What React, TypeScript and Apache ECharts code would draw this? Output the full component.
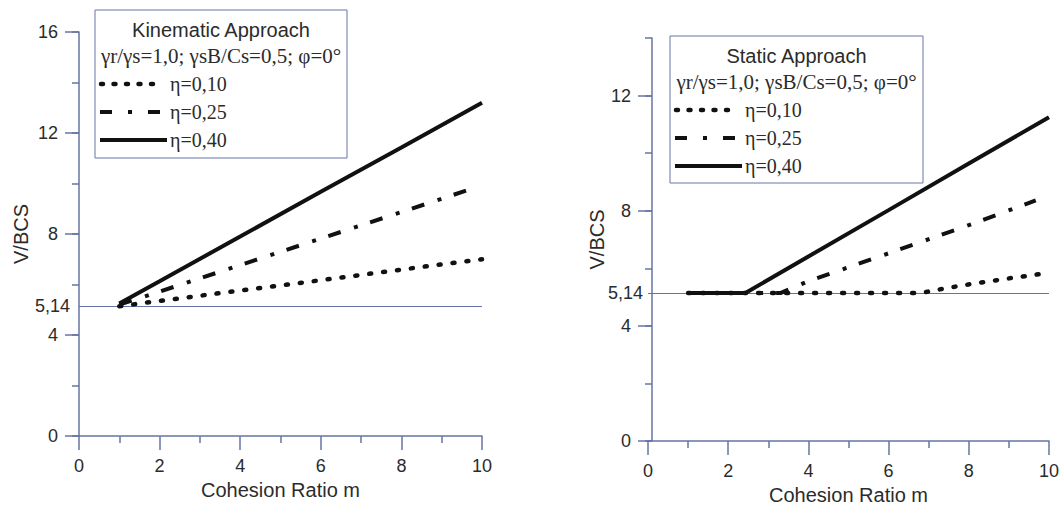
import React, { useEffect, useRef } from 'react';
import * as echarts from 'echarts';

// ---------- data ----------
const seriesNames = ['η=0,10', 'η=0,25', 'η=0,40'];
const refValue = 5.14;
const refLabel = '5,14';
const xTickValues = [0, 2, 4, 6, 8, 10];
const kinMajorY = [0, 4, 8, 12, 16];
const statMajorY = [0, 4, 8, 12];

const kinM10 = [1, 2, 4, 6, 8, 10];
const kinV10 = [5.14, 5.35, 5.76, 6.17, 6.59, 7.0];
const kinM25 = [1, 2, 4, 6, 8, 9.65];
const kinV25 = [5.2, 5.72, 6.77, 7.82, 8.87, 9.74];
const kinM40 = [1, 2, 4, 6, 8, 10];
const kinV40 = [5.25, 6.13, 7.9, 9.67, 11.43, 13.2];

const statM10 = [1, 6.8, 7.4, 8, 9, 10];
const statV10 = [5.14, 5.14, 5.3, 5.44, 5.65, 5.84];
const statM25 = [1, 3.3, 4, 6, 8, 9.67];
const statV25 = [5.14, 5.14, 5.55, 6.52, 7.5, 8.36];
const statM40 = [1, 2.43, 4, 6, 8, 10];
const statV40 = [5.14, 5.14, 6.41, 8.02, 9.64, 11.25];

const kinTitle = 'Kinematic Approach';
const statTitle = 'Static Approach';
const subTitle = 'γr/γs=1,0; γsB/Cs=0,5; φ=0°';
const xName = 'Cohesion Ratio m';
const yName = 'V/BCS';

// ---------- styles ----------
const AXIS = '#6674a4';
const TXT = '#2b2b2b';
const LINE = '#111111';
const SANS = '"Liberation Sans", Arial, sans-serif';
const SERIF = '"Liberation Serif", "Times New Roman", serif';
const plotDash: any[] = [[2, 12], [13, 14, 4, 13], 'solid'];
const plotCap = ['round', 'butt', 'butt'];
const legendDash: any[] = [[2, 10.5], [12, 16, 4, 16], null];

const zip = (a: number[], b: number[]) => a.map((v, i) => [v, b[i]]);

function buildLegend(x0: number, y0: number, w: number, h: number, title: string) {
  const els: any[] = [];
  els.push({
    type: 'rect',
    shape: { x: x0, y: y0, width: w, height: h },
    style: { fill: '#fff', stroke: AXIS, lineWidth: 1 },
    z: 10,
  });
  els.push({
    type: 'text',
    x: x0 + w / 2,
    y: y0 + 20,
    style: { text: title, font: `20px ${SANS}`, fill: TXT, align: 'center', verticalAlign: 'middle' },
    z: 11,
  });
  els.push({
    type: 'text',
    x: x0 + w / 2,
    y: y0 + 46,
    style: { text: subTitle, font: `21px ${SERIF}`, fill: TXT, align: 'center', verticalAlign: 'middle' },
    z: 11,
  });
  seriesNames.forEach((n, i) => {
    const yy = y0 + 74 + i * 28;
    els.push({
      type: 'line',
      shape: { x1: x0 + (i === 0 ? 6 : 5), y1: yy, x2: x0 + (i === 2 ? 72 : 65), y2: yy },
      style: {
        stroke: LINE,
        lineWidth: i === 0 ? 4.5 : 4,
        lineDash: legendDash[i],
        lineCap: i === 0 ? 'round' : 'butt',
      },
      z: 11,
    });
    els.push({
      type: 'text',
      x: x0 + 75,
      y: yy,
      style: { text: n, font: `20px ${SERIF}`, fill: TXT, align: 'left', verticalAlign: 'middle' },
      z: 11,
    });
  });
  return els;
}

export default function App() {
  const ref = useRef<HTMLDivElement>(null);
  useEffect(() => {
    const chart = echarts.init(ref.current!, null, { renderer: 'svg' });

    const grids = [
      { left: 79, top: 32, width: 403, height: 404 },
      { left: 648, top: 38, width: 403, height: 405 },
    ];
    const mk = (gi: number) => ({
      type: 'value',
      gridIndex: gi,
      min: 0,
      max: 10,
      interval: 2,
      name: xName,
      nameLocation: 'middle',
      nameGap: 44,
      nameTextStyle: { fontSize: 20, fontFamily: SANS, color: TXT },
      axisLine: { show: true, lineStyle: { color: AXIS, width: 1.5 } },
      axisTick: { show: true, length: 14, lineStyle: { color: AXIS, width: 1.5 } },
      minorTick: { show: true, splitNumber: 2, length: 7, lineStyle: { color: AXIS, width: 1.5 } },
      axisLabel: { fontSize: 18, fontFamily: SANS, color: TXT, margin: 21, customValues: xTickValues },
      splitLine: { show: false },
      minorSplitLine: { show: false },
    });
    const mkY = (gi: number, max: number, major: number[], gap: number, off: number) => ({
      type: 'value',
      gridIndex: gi,
      min: 0,
      max,
      interval: 4,
      offset: off,
      name: yName,
      nameLocation: 'middle',
      nameRotate: 90,
      nameGap: gap,
      nameTextStyle: { fontSize: 20, fontFamily: SANS, color: TXT },
      axisLine: { show: true, lineStyle: { color: AXIS, width: 1.5 } },
      axisTick: { show: true, length: 14, customValues: major, lineStyle: { color: AXIS, width: 1.5 } },
      axisLabel: { fontSize: 18, fontFamily: SANS, color: TXT, margin: 21, customValues: major },
      splitLine: { show: false },
    });
    const mkMinorY = (gi: number, max: number, off: number) => ({
      type: 'value',
      gridIndex: gi,
      min: 0,
      max,
      interval: 2,
      offset: off,
      position: 'left',
      axisLine: { show: false },
      axisTick: { show: true, length: 7, lineStyle: { color: AXIS, width: 1.5 } },
      axisLabel: { show: false },
      splitLine: { show: false },
    });

    const mkSeries = (gi: number, name: string, data: number[][], i: number) => ({
      type: 'line',
      name,
      xAxisIndex: gi,
      yAxisIndex: gi * 2,
      data,
      symbol: 'none',
      smooth: false,
      lineStyle: { color: LINE, width: i === 0 ? 4.5 : 4, type: plotDash[i], cap: plotCap[i] },
      z: 5,
    });
    const refLine = (gi: number, dist: number) => ({
      type: 'line',
      xAxisIndex: gi,
      yAxisIndex: gi * 2,
      data: [],
      markLine: {
        silent: true,
        symbol: 'none',
        lineStyle: { color: AXIS, width: 1, type: 'solid' },
        label: {
          show: true,
          position: 'start',
          formatter: refLabel,
          fontSize: 18,
          fontFamily: SANS,
          color: TXT,
          distance: dist,
        },
        data: [[{ coord: [0, refValue] }, { coord: [10, refValue] }]],
      },
      z: 2,
    });

    chart.setOption({
      animation: false,
      backgroundColor: '#ffffff',
      grid: grids,
      xAxis: [mk(0), mk(1)],
      yAxis: [
        mkY(0, 16, kinMajorY, 48, 0),
        mkMinorY(0, 16, 0),
        mkY(1, 14, statMajorY, 40, -4),
        mkMinorY(1, 14, -4),
      ],
      series: [
        refLine(0, 9),
        mkSeries(0, seriesNames[0], zip(kinM10, kinV10), 0),
        mkSeries(0, seriesNames[1], zip(kinM25, kinV25), 1),
        mkSeries(0, seriesNames[2], zip(kinM40, kinV40), 2),
        refLine(1, 5),
        mkSeries(1, seriesNames[0], zip(statM10, statV10), 0),
        mkSeries(1, seriesNames[1], zip(statM25, statV25), 1),
        mkSeries(1, seriesNames[2], zip(statM40, statV40), 2),
      ],
      graphic: [...buildLegend(95, 10, 252, 148, kinTitle), ...buildLegend(670, 36, 253, 147, statTitle)],
    });
    return () => chart.dispose();
  }, []);
  return (
    <div
      ref={ref}
      style={{ position: 'fixed', left: 0, top: 0, width: 1062, height: 510, background: '#fff' }}
    />
  );
}
